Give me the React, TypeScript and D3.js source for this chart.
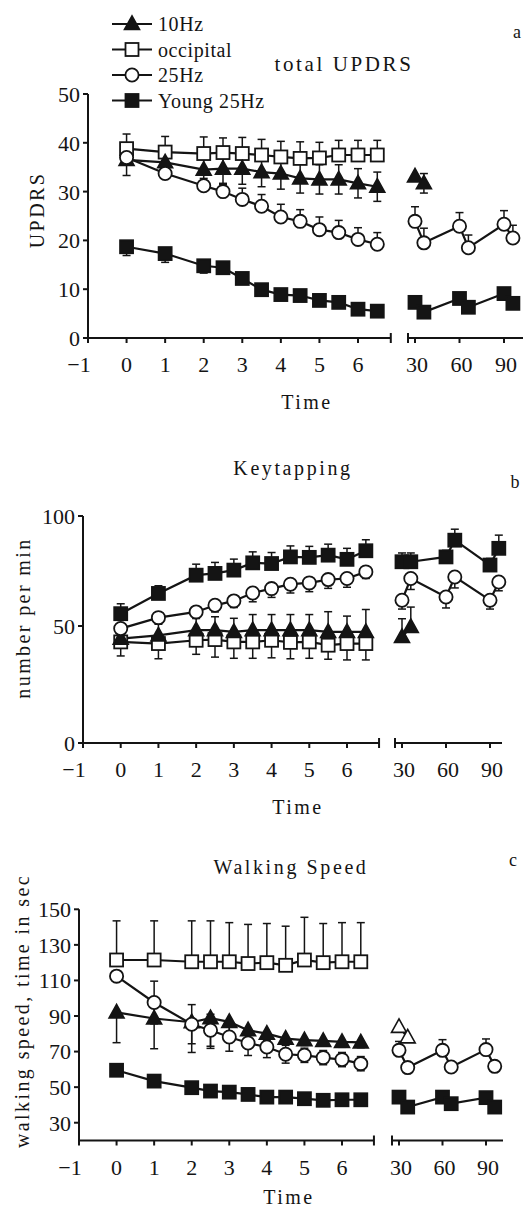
import React from 'react';
import * as d3 from 'd3';

// ---------- data ----------
const earlyTimes = [0, 1, 2, 2.5, 3, 3.5, 4, 4.5, 5, 5.5, 6, 6.5];
const lateTimes = [30, 36, 60, 66, 90, 96];
const xTicksEarly = [-1, 0, 1, 2, 3, 4, 5, 6];
const xTickLabelsEarly = ['\u22121', '0', '1', '2', '3', '4', '5', '6'];
const xTicksLate = [30, 60, 90];

const legendNames = ['10Hz', 'occipital', '25Hz', 'Young 25Hz'];

// Panel a: total UPDRS
const updrsTicks = [0, 10, 20, 30, 40, 50];
const updrs10 = [36.5, 36, 34.5, 34.7, 34.7, 34, 33.7, 32.7, 32.5, 32.5, 31.7, 31];
const updrs10Err = [3.2, 2.5, 3, 3, 3.2, 3, 3.2, 3, 3, 3, 3, 3];
const updrs10Late = [33.1, 31.7];
const updrs10LateErr = [0, 2];
const updrsOcc = [38.8, 38.1, 37.8, 38, 37.8, 37.5, 37.1, 36.8, 36.9, 37.5, 37.5, 37.5];
const updrsOccErr = [3, 3.2, 3.4, 3, 3.3, 3.2, 3.2, 3.4, 3.2, 3, 3, 3];
const updrs25 = [37, 33.7, 31.2, 30, 28.4, 27, 24.8, 23.9, 22.2, 21.6, 20.2, 19.2];
const updrs25Err = [0, 1.5, 1.5, 1.5, 2.3, 2.4, 2.6, 2.4, 2.6, 2.5, 2.4, 2.4];
const updrs25Late = [23.9, 19.5, 22.9, 18.5, 23.3, 20.5];
const updrs25LateErr = [3, 3, 2.8, 2.6, 2.8, 2.6];
const updrsYoung = [18.7, 17.3, 14.8, 14.4, 12.2, 9.9, 8.9, 8.7, 7.7, 7.3, 5.9, 5.5];
const updrsYoungErr = [1.8, 1.8, 1.5, 1.2, 0.8, 0.8, 0, 0, 0, 0, 0, 0];
const updrsYoungLate = [7.3, 5.3, 8.1, 6.3, 9.1, 7.1];
const updrsYoungLateErr = [0, 0, 0, 0, 0, 0];

// Panel b: Keytapping
const keyTicks = [0, 50, 100];
const keyYoung = [55.6, 64.8, 73.1, 73.9, 75.4, 78.7, 78.4, 81.4, 81.2, 82.2, 80.3, 84.2];
const keyYoungErr = [4.5, 3.5, 5, 5, 5, 5, 5, 5, 5, 5, 5, 5];
const keyYoungLate = [79.2, 79.2, 81.4, 89, 77.7, 85.3];
const keyYoungLateErr = [4, 4, 3, 5, 3, 6];
const key25 = [48.9, 53.8, 56.4, 59.4, 61.4, 65, 67, 69, 69.6, 71.1, 71.6, 74.6];
const key25Err = [3, 3, 3, 3, 3, 4, 4, 4, 4, 4, 4, 3];
const key25Late = [61.7, 71.6, 63.2, 72.3, 61.7, 70];
const key25LateErr = [4, 5, 5, 5, 4, 4];
const key10 = [44.6, 46, 48.2, 48.2, 47.5, 48.2, 48.2, 48.2, 48.2, 47.5, 47.5, 47.5];
const key10Err = [5, 6, 6, 6, 6, 7, 7, 7, 7, 9, 7, 10];
const key10Late = [45.3, 49.6];
const key10LateErr = [8, 9];
const keyOcc = [43.2, 42.5, 43.9, 44.2, 43.2, 43.2, 43.9, 43, 43.2, 41.8, 42.5, 42.5];
const keyOccErr = [6, 6.5, 6, 7.5, 7, 7, 7.5, 7, 7, 6, 7, 7];

// Panel c: Walking Speed
const walkTicks = [30, 50, 70, 90, 110, 130, 150];
const walkOcc = [121.5, 121.5, 120.5, 120.5, 120.5, 119.5, 120, 118.5, 121.5, 120, 120.5, 120.5];
const walkOccErr = [22, 22, 23, 23, 22, 22, 22, 22, 24, 22, 22, 22];
const walk10 = [92, 88.6, 86.5, 88.8, 86.7, 82, 80.1, 77.3, 76.4, 76, 75.4, 75.2];
const walk10Err = [17, 17, 17, 17, 8, 5, 4, 3, 3, 3, 3, 3];
const walk10Late = [83.9, 78];
const walk10LateErr = [0, 0];
const walk25 = [112.4, 97.6, 85.4, 82, 78.2, 74.8, 72.6, 68.5, 67.9, 66.6, 65.5, 63.2];
const walk25Err = [0, 12, 11, 9, 8, 7, 6, 5, 4, 4, 4, 4];
const walk25Late = [70.7, 61, 70.7, 61.3, 71.1, 61.7];
const walk25LateErr = [5, 0, 6, 0, 6, 0];
const walkYoung = [59.5, 53.4, 49.7, 47.8, 47.2, 45.9, 44.4, 44.4, 43.5, 42.6, 42.9, 42.9];
const walkYoungErr = [0, 0, 0, 0, 0, 0, 0, 0, 0, 0, 0, 0];
const walkYoungLate = [44.4, 38.8, 44.4, 40.7, 44.1, 38.8];
const walkYoungLateErr = [0, 0, 0, 0, 0, 0];

// ---------- styling ----------
const INK = '#141414';
const FONT = '"Liberation Serif", "DejaVu Serif", "Times New Roman", serif';
const TICK_FONT = 22;

type Shape = 'triangle' | 'square' | 'circle';
type Dir = 'up' | 'down' | 'both';
interface Series {
  shape: Shape;
  filled: boolean;
  early: number[];
  earlyErr: number[];
  dir: Dir;
  late?: number[];
  lateErr?: number[];
  lateDir?: Dir;
  lateFilled?: boolean;
}

interface Panel {
  title: string;
  titleX: number;
  titleY: number;
  titleSize: number;
  letter: string;
  letterX: number;
  letterY: number;
  yLabel: string;
  yLabelX: number;
  yLabelY: number;
  yDomain: number[];
  yRange: number[];
  yTicks: number[];
  xEarlyPx: [number, number];
  earlyEnd: number;
  latePx: [number, number];
  lateStartPx: number;
  lateEndPx: number;
  timeX: number;
  timeY: number;
  series: Series[];
  legend?: boolean;
}

const panels: Panel[] = [
  {
    title: 'total UPDRS', titleX: 344, titleY: 71, titleSize: 21,
    letter: 'a', letterX: 517, letterY: 38,
    yLabel: 'UPDRS', yLabelX: 37, yLabelY: 210,
    yDomain: [0, 50], yRange: [338, 94], yTicks: updrsTicks,
    xEarlyPx: [88, 358], earlyEnd: 6.85,
    latePx: [415, 504], lateStartPx: 408, lateEndPx: 523,
    timeX: 307, timeY: 409, legend: true,
    series: [
      { shape: 'square', filled: false, early: updrsOcc, earlyErr: updrsOccErr, dir: 'up' },
      { shape: 'triangle', filled: true, early: updrs10, earlyErr: updrs10Err, dir: 'both', late: updrs10Late, lateErr: updrs10LateErr, lateDir: 'both' },
      { shape: 'circle', filled: false, early: updrs25, earlyErr: updrs25Err, dir: 'up', late: updrs25Late, lateErr: updrs25LateErr, lateDir: 'up' },
      { shape: 'square', filled: true, early: updrsYoung, earlyErr: updrsYoungErr, dir: 'down', late: updrsYoungLate, lateErr: updrsYoungLateErr, lateDir: 'down' },
    ],
  },
  {
    title: 'Keytapping', titleX: 293, titleY: 475, titleSize: 20,
    letter: 'b', letterX: 515, letterY: 488,
    yLabel: 'number per min', yLabelX: 23, yLabelY: 618,
    yDomain: [0, 50, 100], yRange: [743, 626, 516], yTicks: keyTicks,
    xEarlyPx: [83, 347], earlyEnd: 6.85,
    latePx: [402, 490], lateStartPx: 395, lateEndPx: 502,
    timeX: 298, timeY: 814,
    series: [
      { shape: 'square', filled: false, early: keyOcc, earlyErr: keyOccErr, dir: 'down' },
      { shape: 'triangle', filled: true, early: key10, earlyErr: key10Err, dir: 'up', late: key10Late, lateErr: key10LateErr, lateDir: 'up' },
      { shape: 'circle', filled: false, early: key25, earlyErr: key25Err, dir: 'down', late: key25Late, lateErr: key25LateErr, lateDir: 'down' },
      { shape: 'square', filled: true, early: keyYoung, earlyErr: keyYoungErr, dir: 'up', late: keyYoungLate, lateErr: keyYoungLateErr, lateDir: 'up' },
    ],
  },
  {
    title: 'Walking Speed', titleX: 291, titleY: 874, titleSize: 20,
    letter: 'c', letterX: 513, letterY: 866,
    yLabel: 'walking speed, time in sec', yLabelX: 22, yLabelY: 1011,
    yDomain: [20, 150], yRange: [1140.5, 909.3], yTicks: walkTicks,
    xEarlyPx: [79, 342], earlyEnd: 6.85,
    latePx: [399, 486], lateStartPx: 392, lateEndPx: 503,
    timeX: 289, timeY: 1204,
    series: [
      { shape: 'square', filled: false, early: walkOcc, earlyErr: walkOccErr, dir: 'up' },
      { shape: 'triangle', filled: true, early: walk10, earlyErr: walk10Err, dir: 'down', late: walk10Late, lateErr: walk10LateErr, lateDir: 'down', lateFilled: false },
      { shape: 'circle', filled: false, early: walk25, earlyErr: walk25Err, dir: 'both', late: walk25Late, lateErr: walk25LateErr, lateDir: 'up' },
      { shape: 'square', filled: true, early: walkYoung, earlyErr: walkYoungErr, dir: 'down', late: walkYoungLate, lateErr: walkYoungLateErr, lateDir: 'down' },
    ],
  },
];

const legendShapes: { shape: Shape; filled: boolean }[] = [
  { shape: 'triangle', filled: true },
  { shape: 'square', filled: false },
  { shape: 'circle', filled: false },
  { shape: 'square', filled: true },
];

function Marker({ shape, filled, x, y }: { shape: Shape; filled: boolean; x: number; y: number }) {
  const fill = filled ? INK : '#fff';
  if (shape === 'square') {
    return <rect x={x - 6.5} y={y - 6.5} width={13} height={13} fill={fill} stroke={INK} strokeWidth={1.8} />;
  }
  if (shape === 'circle') {
    return <circle cx={x} cy={y} r={6.6} fill={fill} stroke={INK} strokeWidth={1.8} />;
  }
  return (
    <path
      d={`M${x},${y - 8} L${x + 7.5},${y + 5.5} L${x - 7.5},${y + 5.5} Z`}
      fill={fill}
      stroke={INK}
      strokeWidth={1.6}
      strokeLinejoin="miter"
    />
  );
}

function ErrBar({ x, y, v, e, dir, yS }: { x: number; y: number; v: number; e: number; dir: Dir; yS: (n: number) => number }) {
  if (!e) return null;
  const parts: number[] = [];
  if (dir === 'up' || dir === 'both') parts.push(yS(v + e));
  if (dir === 'down' || dir === 'both') parts.push(yS(v - e));
  return (
    <g stroke={INK} strokeWidth={1.5}>
      {parts.map((yy, i) => (
        <g key={i}>
          <line x1={x} x2={x} y1={y} y2={yy} />
          <line x1={x - 4} x2={x + 4} y1={yy} y2={yy} />
        </g>
      ))}
    </g>
  );
}

function PanelView({ p }: { p: Panel }) {
  const y = d3.scaleLinear().domain(p.yDomain).range(p.yRange);
  const xE = d3.scaleLinear().domain([-1, 6]).range(p.xEarlyPx);
  const xL = d3.scaleLinear().domain([30, 90]).range(p.latePx);
  const y0 = y(p.yDomain[0]);
  const yTop = y(p.yDomain[p.yDomain.length - 1]);
  const axX = xE(-1);
  const line = d3.line<[number, number]>().x((d) => d[0]).y((d) => d[1]);

  const seg = (s: Series, late: boolean) => {
    const vals = late ? s.late : s.early;
    if (!vals) return null;
    const xs = late ? lateTimes : earlyTimes;
    const xs2 = late ? xL : xE;
    const errs = (late ? s.lateErr : s.earlyErr) || [];
    const dir = (late ? s.lateDir : s.dir) || s.dir;
    const filled = late && s.lateFilled !== undefined ? s.lateFilled : s.filled;
    const pts: [number, number][] = vals.map((v, i) => [xs2(xs[i]), y(v)]);
    return { pts, errs, dir, filled, vals };
  };

  const segs: { s: Series; d: NonNullable<ReturnType<typeof seg>> }[] = [];
  p.series.forEach((s) => {
    const a = seg(s, false);
    if (a) segs.push({ s, d: a });
    const b = seg(s, true);
    if (b) segs.push({ s, d: b });
  });

  return (
    <g>
      {/* title and letter */}
      <text x={p.titleX} y={p.titleY} textAnchor="middle" fontSize={p.titleSize} style={{ letterSpacing: '2.6px' }}>
        {p.title}
      </text>
      <text x={p.letterX} y={p.letterY} textAnchor="middle" fontSize={18}>
        {p.letter}
      </text>
      {/* y label */}
      <text
        transform={`translate(${p.yLabelX},${p.yLabelY}) rotate(-90)`}
        textAnchor="middle"
        dy="0.35em"
        fontSize={20}
        style={{ letterSpacing: '2.4px' }}
      >
        {p.yLabel}
      </text>
      {/* y axis */}
      <line x1={axX} x2={axX} y1={y0} y2={yTop} stroke={INK} strokeWidth={2} />
      {p.yTicks.map((t) => (
        <g key={t}>
          <line x1={axX - 5} x2={axX} y1={y(t)} y2={y(t)} stroke={INK} strokeWidth={2} />
          <text x={axX - 8} y={y(t)} dy="0.36em" textAnchor="end" fontSize={TICK_FONT}>
            {t}
          </text>
        </g>
      ))}
      {/* x axis early */}
      <line x1={axX - 1} x2={xE(p.earlyEnd)} y1={y0} y2={y0} stroke={INK} strokeWidth={2} />
      <line x1={xE(p.earlyEnd)} x2={xE(p.earlyEnd)} y1={y0 - 5} y2={y0 + 5} stroke={INK} strokeWidth={2} />
      {xTicksEarly.map((t, i) => (
        <g key={t}>
          <line x1={xE(t)} x2={xE(t)} y1={y0} y2={y0 + 5} stroke={INK} strokeWidth={2} />
          <text x={xE(t) + (t < 0 ? -9 : 0)} y={y0 + 34} textAnchor="middle" fontSize={TICK_FONT}>
            {xTickLabelsEarly[i]}
          </text>
        </g>
      ))}
      {/* x axis late */}
      <line x1={p.lateStartPx} x2={p.lateEndPx} y1={y0} y2={y0} stroke={INK} strokeWidth={2} />
      <line x1={p.lateStartPx} x2={p.lateStartPx} y1={y0 - 5} y2={y0 + 5} stroke={INK} strokeWidth={2} />
      {xTicksLate.map((t) => (
        <g key={t}>
          <line x1={xL(t)} x2={xL(t)} y1={y0} y2={y0 + 5} stroke={INK} strokeWidth={2} />
          <text x={xL(t) + 2} y={y0 + 34} textAnchor="middle" fontSize={TICK_FONT}>
            {t}
          </text>
        </g>
      ))}
      <text x={p.timeX} y={p.timeY} textAnchor="middle" fontSize={20} style={{ letterSpacing: '2.5px' }}>
        Time
      </text>
      {/* lines */}
      {segs.map(({ d }, i) => (
        <path key={'l' + i} d={line(d.pts) || ''} fill="none" stroke={INK} strokeWidth={2.2} />
      ))}
      {/* error bars */}
      {segs.map(({ d }, i) => (
        <g key={'e' + i}>
          {d.pts.map((pt, j) => (
            <ErrBar key={j} x={pt[0]} y={pt[1]} v={d.vals[j]} e={d.errs[j] || 0} dir={d.dir} yS={y} />
          ))}
        </g>
      ))}
      {/* markers */}
      {segs.map(({ s, d }, i) => (
        <g key={'m' + i}>
          {d.pts.map((pt, j) => (
            <Marker key={j} shape={s.shape} filled={d.filled} x={pt[0]} y={pt[1]} />
          ))}
        </g>
      ))}
      {/* legend */}
      {p.legend &&
        legendNames.map((n, i) => {
          const cy = 24 + i * 25.5;
          return (
            <g key={n}>
              <line x1={112} x2={152} y1={cy} y2={cy} stroke={INK} strokeWidth={1.8} />
              <Marker shape={legendShapes[i].shape} filled={legendShapes[i].filled} x={132} y={cy} />
              <text x={158} y={cy} dy="0.36em" fontSize={20} style={{ letterSpacing: '0.6px' }}>
                {n}
              </text>
            </g>
          );
        })}
    </g>
  );
}

export default function App() {
  return (
    <svg
      width={523}
      height={1210}
      viewBox="0 0 523 1210"
      style={{ position: 'absolute', left: 0, top: 0, background: '#fff' }}
      fontFamily={FONT}
      fill={INK}
    >
      <rect x={0} y={0} width={523} height={1210} fill="#fff" />
      {panels.map((p, i) => (
        <PanelView key={i} p={p} />
      ))}
    </svg>
  );
}
